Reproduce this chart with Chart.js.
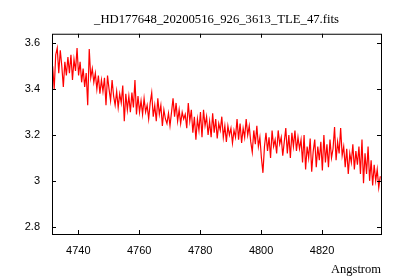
<!DOCTYPE html>
<html>
<head>
<meta charset="utf-8">
<script src="https://cdn.jsdelivr.net/npm/chart.js@4/dist/chart.umd.min.js"></script>
<style>
  html, body { margin: 0; padding: 0; background: #fff; }
  #wrap { width: 400px; height: 280px; }
</style>
</head>
<body>
<div id="wrap"><canvas id="spectrum"></canvas></div>
<script>
// Spectrum of _HD177648_20200516_926_3613_TLE_47.fits
// Wavelength grid as in the FITS header (start + step), flux
const plotTitle = '_HD177648_20200516_926_3613_TLE_47.fits';
const xAxisLabel = 'Angstrom';
const crval1 = 4731.6;
const cdelt1 = 0.5;

const fluxValues = [
  3.50, 3.40, 3.55, 3.58, 3.47, 3.57, 3.50, 3.41, 3.52, 3.46,
  3.54, 3.47, 3.55, 3.44, 3.53, 3.48, 3.58, 3.46, 3.52, 3.43,
  3.49, 3.41, 3.47, 3.33, 3.575, 3.45, 3.49, 3.43, 3.47, 3.40,
  3.46, 3.38, 3.44, 3.39, 3.45, 3.33, 3.46, 3.40, 3.35, 3.44,
  3.37, 3.33, 3.39, 3.32, 3.38, 3.34, 3.416, 3.26, 3.38, 3.31,
  3.37, 3.30, 3.385, 3.32, 3.44, 3.29, 3.37, 3.30, 3.35, 3.29,
  3.36, 3.30, 3.33, 3.27, 3.34, 3.385, 3.28, 3.33, 3.26, 3.36,
  3.29, 3.33, 3.24, 3.31, 3.27, 3.25, 3.295, 3.24, 3.30, 3.36,
  3.28, 3.34, 3.26, 3.31, 3.25, 3.30, 3.27, 3.29, 3.23, 3.34,
  3.26, 3.31, 3.21, 3.28, 3.18, 3.27, 3.22, 3.30, 3.19, 3.31,
  3.24, 3.28, 3.20, 3.26, 3.19, 3.295, 3.21, 3.27, 3.185, 3.25,
  3.22, 3.28, 3.19, 3.24, 3.17, 3.24, 3.20, 3.23, 3.165, 3.22,
  3.19, 3.27, 3.18, 3.25, 3.165, 3.23, 3.19, 3.27, 3.20, 3.24,
  3.17, 3.125, 3.22, 3.16, 3.24, 3.15, 3.19, 3.10, 3.035, 3.15,
  3.21, 3.13, 3.19, 3.10, 3.22, 3.15, 3.18, 3.12, 3.22, 3.16,
  3.19, 3.11, 3.17, 3.23, 3.12, 3.20, 3.10, 3.21, 3.15, 3.22,
  3.13, 3.19, 3.14, 3.18, 3.08, 3.20, 3.05, 3.15, 3.10, 3.185,
  3.04, 3.13, 3.18, 3.06, 3.15, 3.09, 3.17, 3.045, 3.20, 3.08,
  3.16, 3.06, 3.18, 3.10, 3.14, 3.235, 3.09, 3.17, 3.12, 3.23,
  3.11, 3.15, 3.06, 3.14, 3.03, 3.12, 3.08, 3.16, 3.05, 3.13,
  3.07, 3.15, 3.03, 3.18, 2.99, 3.12, 3.03, 3.15, 3.00, 3.09,
  2.98, 3.07, 3.00, 3.05, 2.97, 3.02
];

const xTickValues = [4740, 4760, 4780, 4800, 4820];
const yTickValues = [2.8, 3.0, 3.2, 3.4, 3.6];

// gnuplot style frame: full box with short inward ticks on all four sides
const frameTicks = {
  id: 'frameTicks',
  afterDraw(chart) {
    const { ctx, chartArea: a, scales } = chart;
    const len = 4;
    ctx.save();
    ctx.strokeStyle = '#000';
    ctx.lineWidth = 1;
    ctx.beginPath();
    scales.x.ticks.forEach(t => {
      const px = Math.round(scales.x.getPixelForValue(t.value)) + 0.5;
      ctx.moveTo(px, a.bottom); ctx.lineTo(px, a.bottom - len);
      ctx.moveTo(px, a.top); ctx.lineTo(px, a.top + len);
    });
    scales.y.ticks.forEach(t => {
      const py = Math.round(scales.y.getPixelForValue(t.value)) + 0.5;
      ctx.moveTo(a.left, py); ctx.lineTo(a.left + len, py);
      ctx.moveTo(a.right, py); ctx.lineTo(a.right - len, py);
    });
    ctx.stroke();
    ctx.strokeRect(a.left + 0.5, a.top + 0.5, a.right - a.left, a.bottom - a.top);
    ctx.restore();
  }
};

const ctx = document.getElementById('spectrum').getContext('2d');
new Chart(ctx, {
  type: 'line',
  data: {
    datasets: [{
      data: fluxValues.map((f, i) => ({ x: crval1 + i * cdelt1, y: f })),
      borderColor: '#ff0000',
      borderWidth: 1.2,
      pointRadius: 0,
      tension: 0,
      fill: false
    }]
  },
  options: {
    responsive: true,
    maintainAspectRatio: false,
    animation: false,
    layout: { padding: { left: 0, right: 19, top: 0, bottom: 0 } },
    plugins: {
      legend: { display: false },
      tooltip: { enabled: false },
      title: {
        display: true,
        fullSize: false,
        text: plotTitle,
        color: '#000',
        font: { family: 'Liberation Serif', size: 12.7, weight: 'normal' },
        padding: { top: 12.5, bottom: 6 }
      }
    },
    scales: {
      x: {
        type: 'linear',
        min: 4731.38,
        max: 4839.34,
        grid: { display: false, drawTicks: false },
        border: { display: false },
        afterBuildTicks: s => { s.ticks = xTickValues.map(v => ({ value: v })); },
        afterFit: s => { s.height = 46; },
        ticks: {
          color: '#000',
          padding: 10,
          maxRotation: 0,
          font: { family: 'Liberation Sans', size: 11 },
          callback: v => String(v)
        },
        title: {
          display: true,
          text: xAxisLabel,
          align: 'end',
          color: '#000',
          font: { family: 'Liberation Serif', size: 12.5 },
          padding: { top: 0, bottom: 3 }
        }
      },
      y: {
        type: 'linear',
        min: 2.768,
        max: 3.642,
        grid: { display: false, drawTicks: false },
        border: { display: false },
        afterBuildTicks: s => { s.ticks = yTickValues.map(v => ({ value: v })); },
        afterFit: s => { s.width = 52; },
        ticks: {
          color: '#000',
          padding: 12,
          font: { family: 'Liberation Sans', size: 11 },
          callback: v => String(Math.round(v * 10) / 10)
        }
      }
    }
  },
  plugins: [frameTicks]
});
</script>
</body>
</html>
